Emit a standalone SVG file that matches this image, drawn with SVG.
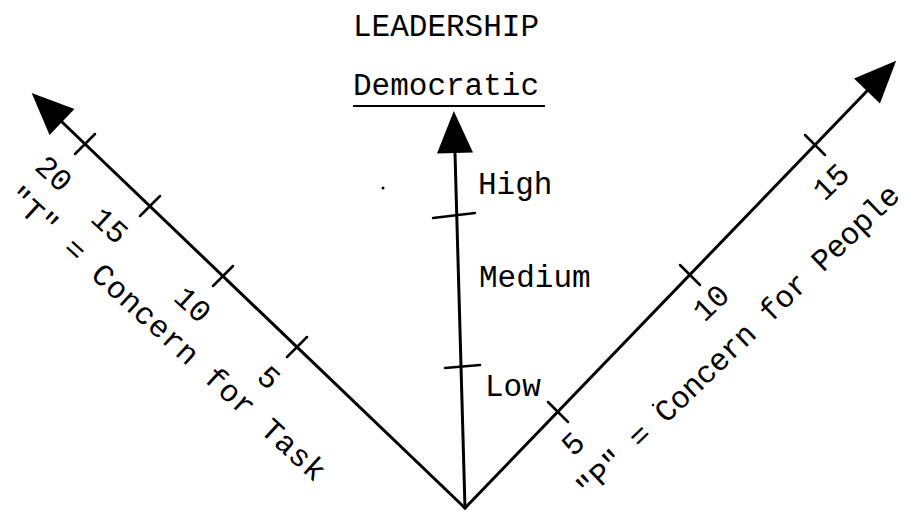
<svg xmlns="http://www.w3.org/2000/svg" width="912" height="511" viewBox="0 0 912 511">
<style>
  text { font-family: "Liberation Mono", "Courier New", monospace; font-size: 31px; fill: #000; }
  .axis { stroke: #000; stroke-width: 3; fill: none; stroke-linecap: round; }
  .tick { stroke: #000; stroke-width: 2.5; fill: none; stroke-linecap: round; }
  .num { text-anchor: middle; }
</style>
<defs>
  <marker id="arrow" markerUnits="userSpaceOnUse" markerWidth="44" markerHeight="38" refX="0" refY="19" orient="auto" overflow="visible">
    <path d="M0,1 L42,19 L0,37 z" fill="#000"/>
  </marker>
</defs>
<rect width="912" height="511" fill="#fff"/>

<g id="title">
  <text x="353" y="36">LEADERSHIP</text>
  <text x="353" y="95">Democratic</text>
  <line x1="353" y1="106" x2="545" y2="106" stroke="#000" stroke-width="2"/>
</g>

<g id="connectors">
  <line class="axis" x1="465" y1="508" x2="62" y2="122" marker-end="url(#arrow)"/>
  <line class="axis" x1="465" y1="508" x2="455" y2="153" marker-end="url(#arrow)"/>
  <line class="axis" x1="465" y1="508" x2="867" y2="91" marker-end="url(#arrow)"/>
</g>

<g id="task-axis">
  <line class="tick" x1="75" y1="154" x2="95" y2="134"/>
  <line class="tick" x1="140" y1="216" x2="160" y2="196"/>
  <line class="tick" x1="213" y1="286" x2="233" y2="266"/>
  <line class="tick" x1="287" y1="357" x2="307" y2="337"/>
  <text class="num" transform="translate(47,181) rotate(42.5)">20</text>
  <text class="num" transform="translate(103,233) rotate(42.5)">15</text>
  <text class="num" transform="translate(186,312) rotate(42.5)">10</text>
  <text class="num" transform="translate(262,385) rotate(42.5)">5</text>
  <text transform="translate(5,199) rotate(42.5)" textLength="420" lengthAdjust="spacing">"T" = Concern for Task</text>
</g>

<g id="leadership-axis">
  <line class="tick" x1="433" y1="218" x2="475" y2="213"/>
  <line class="tick" x1="445" y1="368" x2="480" y2="365"/>
  <text x="478" y="194">High</text>
  <text x="479" y="287">Medium</text>
  <text x="485" y="396">Low</text>
</g>

<g id="people-axis">
  <line class="tick" x1="548" y1="402" x2="568" y2="422"/>
  <line class="tick" x1="680" y1="265" x2="700" y2="285"/>
  <line class="tick" x1="805" y1="135" x2="825" y2="155"/>
  <text class="num" transform="translate(580,451) rotate(-44)">5</text>
  <text class="num" transform="translate(718,310) rotate(-44)">10</text>
  <text class="num" transform="translate(838,189) rotate(-44)">15</text>
  <text transform="translate(588,500) rotate(-44)" textLength="436" lengthAdjust="spacing">"P" = Concern for People</text>
</g>

<g id="specks">
  <circle cx="383" cy="188" r="1.5" fill="#000"/>
  <circle cx="653" cy="405" r="1.2" fill="#000"/>
</g>
</svg>
